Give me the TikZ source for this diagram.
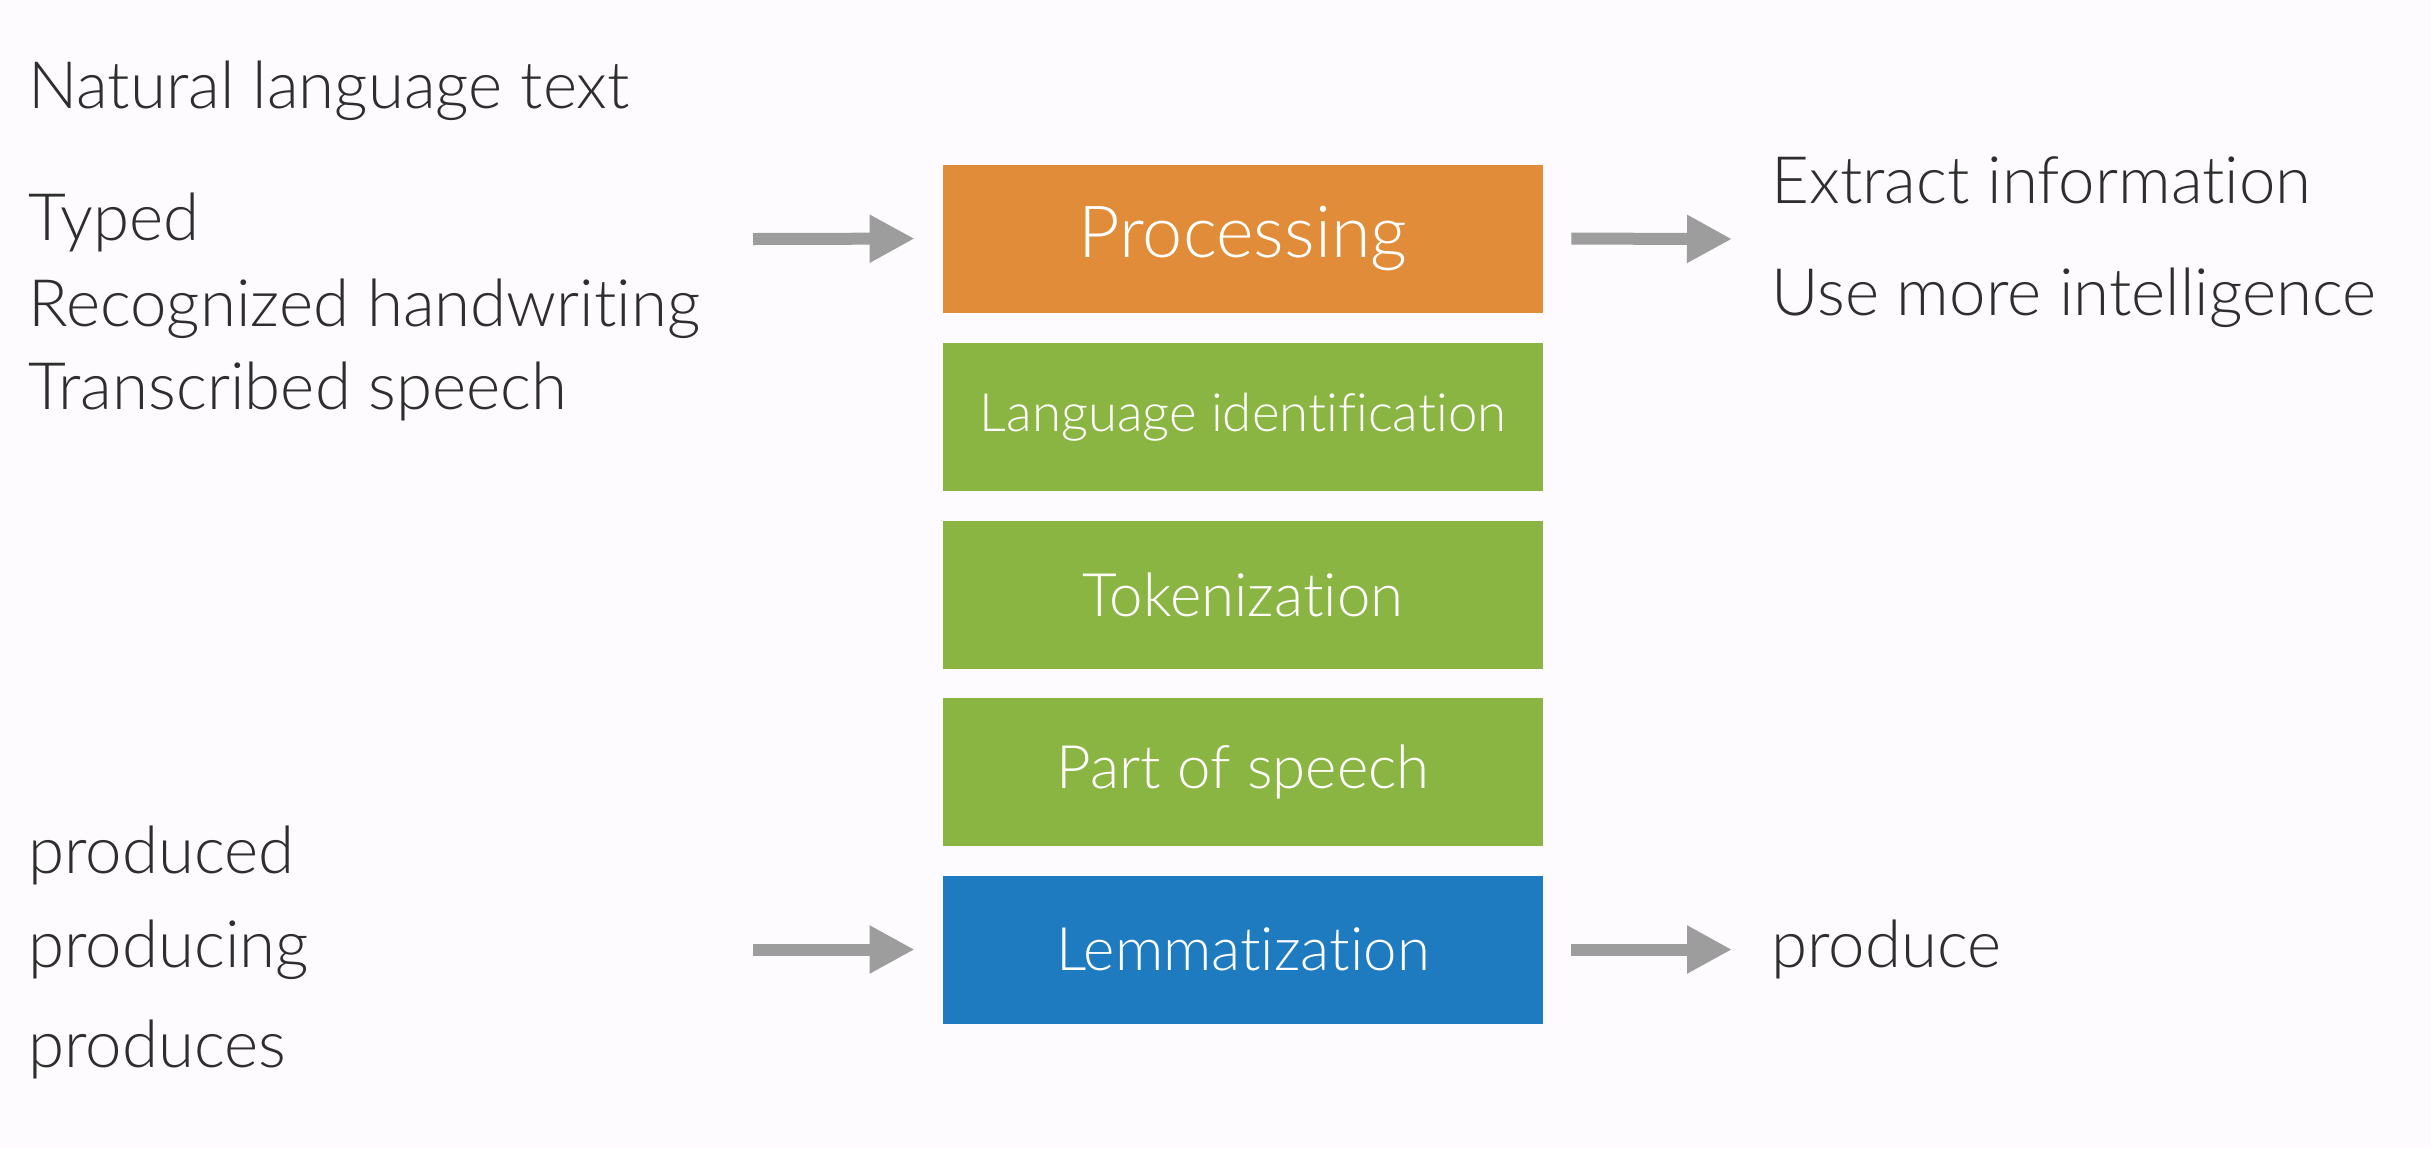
\documentclass[tikz,border=0pt]{standalone}
\usepackage{fontspec}
\setmainfont{Lato}[UprightFont=* Light,Ligatures=NoCommon]
\usetikzlibrary{arrows.meta}
\definecolor{bg}{HTML}{FDFBFD}
\definecolor{txt}{HTML}{2E2E2E}
\definecolor{orangebox}{HTML}{E08C38}
\definecolor{greenbox}{HTML}{8BB543}
\definecolor{bluebox}{HTML}{1F7BBF}
\definecolor{arrowgray}{HTML}{9D9D9D}
\begin{document}
\begin{tikzpicture}[x=0.5pt,y=-0.5pt,
  lbl/.style={anchor=base west,inner sep=0pt,text=txt,font=\fontsize{32.7}{38}\selectfont},
  stage/.style={minimum width=300pt,minimum height=74pt,inner sep=0pt,text=white,font=\fontsize{30}{35}\selectfont},
  flow/.style={draw=arrowgray,line width=6pt,-{Triangle[length=22.5pt,width=22.5pt]}}]
\fill[bg] (0,0) rectangle (2431,1148);
\useasboundingbox (0,0) rectangle (2431,1148);
% stages
\node[stage,fill=orangebox,font=\fontsize{36}{42}\selectfont] (proc) at (1243,238.5) {Processing};
\node[stage,fill=greenbox,font=\fontsize{26.4}{31}\selectfont] (lang) at (1243,417) {Language identification};
\node[stage,fill=greenbox] (tok) at (1243,594.5) {Tokenization};
\node[stage,fill=greenbox] (pos) at (1243,772) {Part of speech};
\node[stage,fill=bluebox] (lem) at (1243,949.5) {Lemmatization};
% left texts
\node[lbl] (nat) at (28,108) {Natural language text};
\node[lbl] (typed) at (28,240) {Typed};
\node[lbl] (rec) at (28,326) {Recognized handwriting};
\node[lbl] (trans) at (28,409) {Transcribed speech};
\node[lbl] (p1) at (28,873) {produced};
\node[lbl] (p2) at (28,967) {producing};
\node[lbl] (p3) at (28,1067) {produces};
% right texts
\node[lbl] (ext) at (1771,203) {Extract information};
\node[lbl] (use) at (1771,315) {Use more intelligence};
\node[lbl] (prod) at (1771,967) {produce};
% arrow ends
\coordinate (inA) at (753,239);
\coordinate (outA) at (1732,239);
\coordinate (inB) at (753,949.5);
\coordinate (outB) at (1732,949.5);
\draw[flow,shorten >=14pt] (inA) -- (proc.west);
\draw[flow,shorten <=14pt] (proc.east) -- (outA);
\draw[flow,shorten >=14pt] (inB) -- (lem.west);
\draw[flow,shorten <=14pt] (lem.east) -- (outB);
\end{tikzpicture}
\end{document}
